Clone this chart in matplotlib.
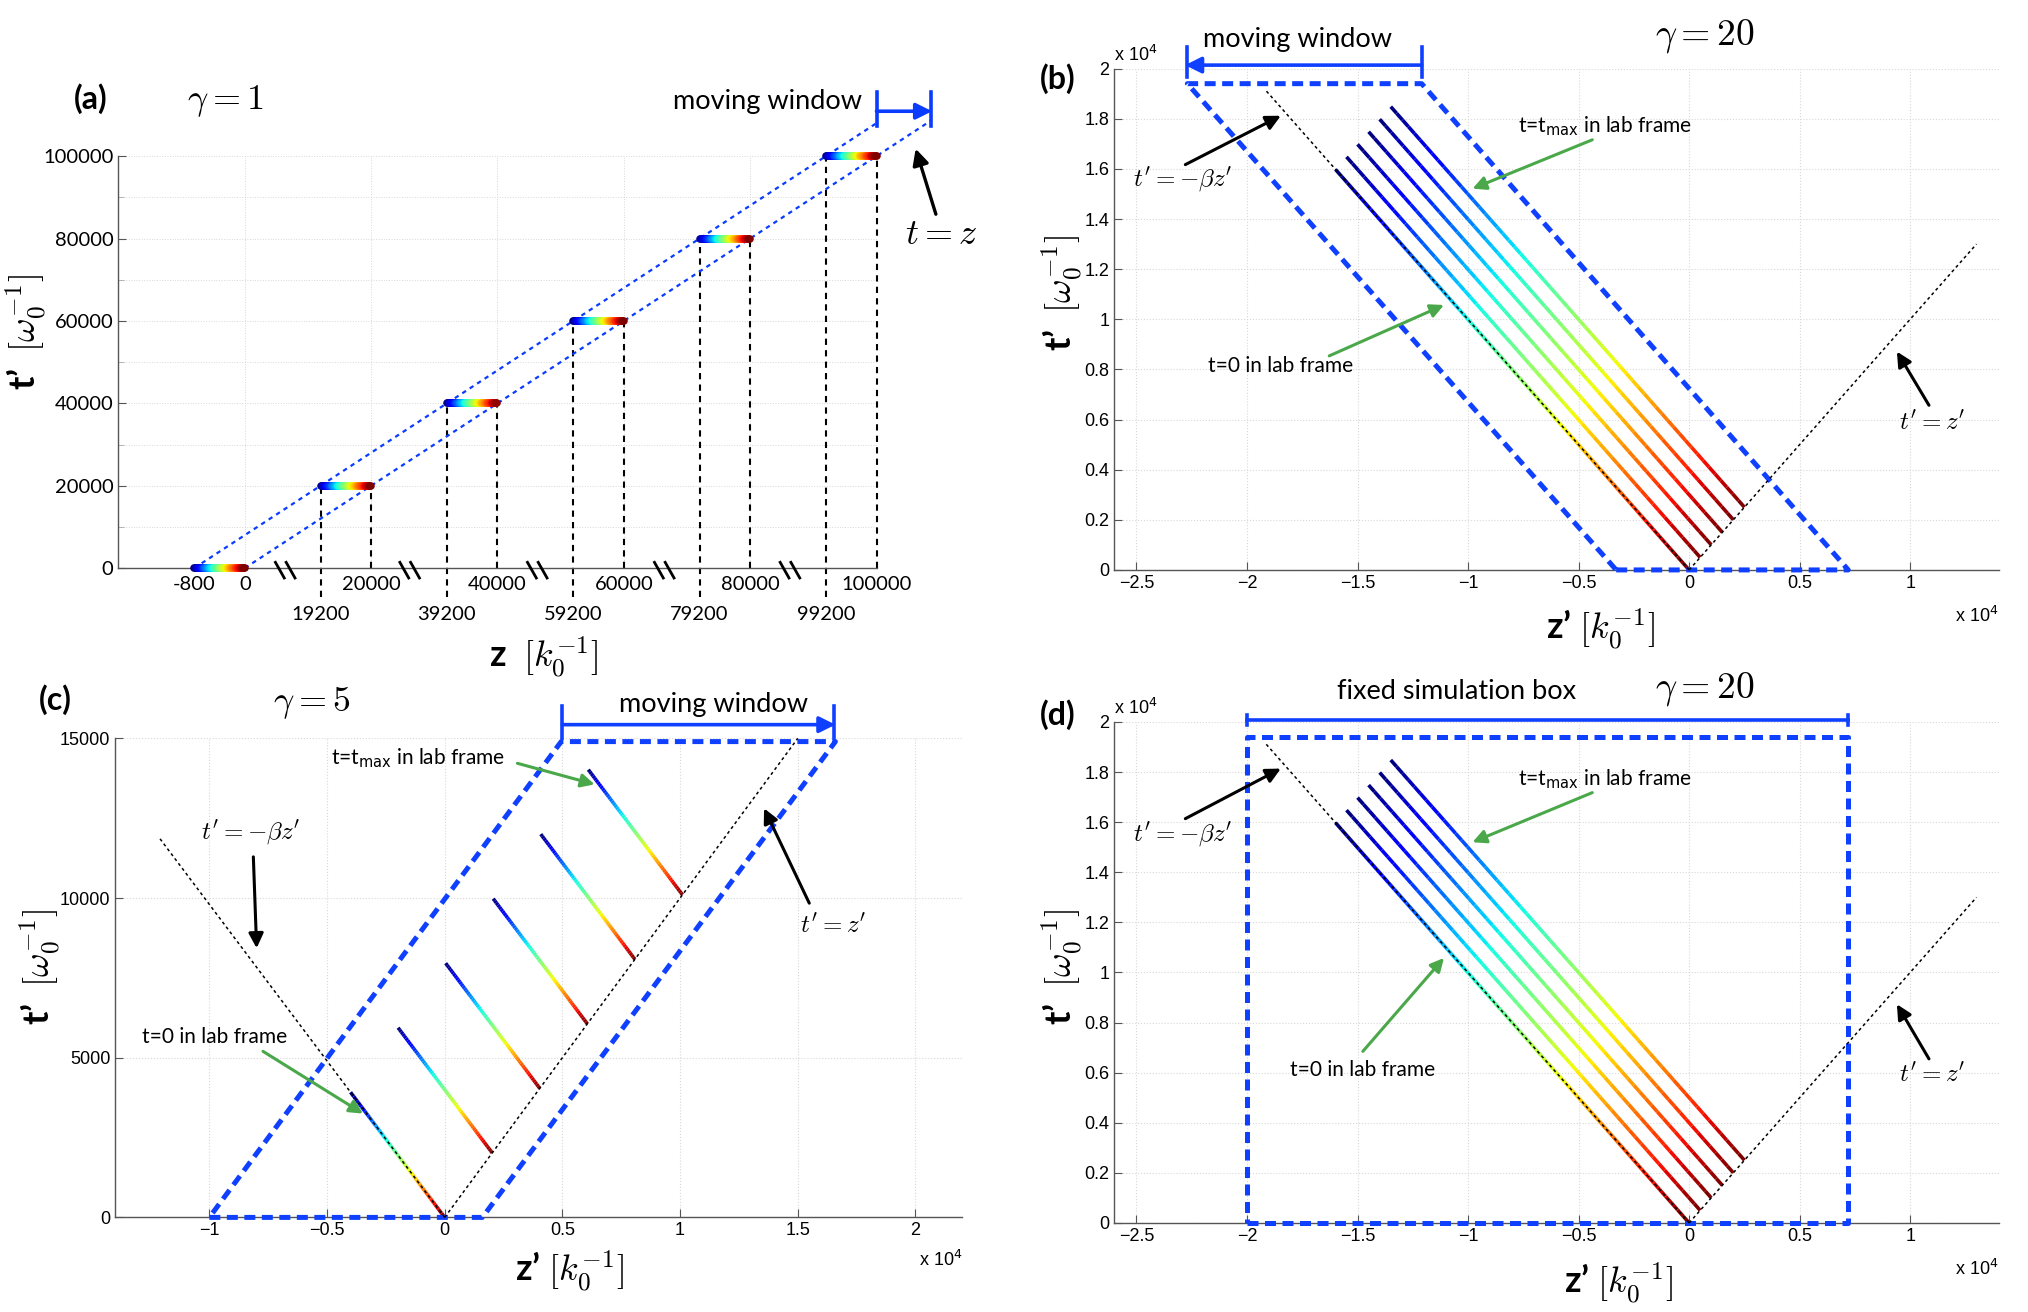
import numpy as np
import matplotlib
matplotlib.use('Agg')
import matplotlib.pyplot as plt
from matplotlib.collections import LineCollection

plt.rcParams['mathtext.fontset'] = 'cm'
plt.rcParams['font.family'] = ['Lato', 'DejaVu Sans']
plt.rcParams['axes.unicode_minus'] = True

BLUE = '#0a3cff'
DBLUE = '#1040ff'
GREEN = '#4aa84a'
AXC = '#555555'
GRIDC = '#d8d8d8'
TICKFONT = ['Liberation Sans', 'DejaVu Sans']

# ---------------- data ----------------
# panel (a): snapshots in the lab frame (plotted on a broken z axis)
a_times = [0, 20000, 40000, 60000, 80000, 100000]
a_left = [-8000, 12000, 32000, 52000, 72000, 92000]     # plotted position of z = t-800
a_right = [0, 20000, 40000, 60000, 80000, 100000]       # plotted position of z = t
a_top_pos = [-8000, 0, 20000, 40000, 60000, 80000, 100000]
a_top_lab = ['-800', '0', '20000', '40000', '60000', '80000', '100000']
a_low_pos = [12000, 32000, 52000, 72000, 92000]
a_low_lab = ['19200', '39200', '59200', '79200', '99200']
a_break_pos = [6400, 26100, 46300, 66400, 86300]
a_win_left = ([-8000, 100000], [0, 108000])
a_win_right = ([0, 108700], [0, 108700])

# panels (b)/(d): gamma = 20, boosted-frame snapshots
g20_z_top = [-16000, -15500, -14999, -14499, -13999, -13498]
g20_t_top = [15980, 16480, 16980, 17481, 17981, 18482]
g20_z_bot = [0, 500, 1001, 1501, 2001, 2502]
g20_t_bot = [0, 500, 1001, 1501, 2001, 2502]
g20_beta_line = ([0, -19200], [0, 19180])
g20_light_line = ([0, 13000], [0, 13000])
b_window_z = [-3300, 7200, -12100, -22700, -3300]
b_window_t = [0, 0, 19400, 19400, 0]
d_box_z = [-20000, 7200, 7200, -20000, -20000]
d_box_t = [0, 0, 19400, 19400, 0]

# panel (c): gamma = 5
g5_z_top = [-4000, -1980, 41, 2061, 4082, 6102]
g5_t_top = [3919, 5939, 7960, 9980, 12001, 14021]
g5_z_bot = [0, 2020, 4041, 6061, 8082, 10102]
g5_t_bot = [0, 2020, 4041, 6061, 8082, 10102]
g5_beta_line = ([0, -12100], [0, 11860])
g5_light_line = ([0, 15000], [0, 15000])
c_window_z = [-10000, 1600, 16600, 4950, -10000]
c_window_t = [0, 0, 14900, 14900, 0]

b_xticks = [-25000, -20000, -15000, -10000, -5000, 0, 5000, 10000]
b_xlabels = ['\u22122.5', '\u22122', '\u22121.5', '\u22121', '\u22120.5', '0', '0.5', '1']
b_yticks = [0, 2000, 4000, 6000, 8000, 10000, 12000, 14000, 16000, 18000, 20000]
b_ylabels = ['0', '0.2', '0.4', '0.6', '0.8', '1', '1.2', '1.4', '1.6', '1.8', '2']
c_xticks = [-10000, -5000, 0, 5000, 10000, 15000, 20000]
c_xlabels = ['\u22121', '\u22120.5', '0', '0.5', '1', '1.5', '2']
c_yticks = [0, 5000, 10000, 15000]
c_ylabels = ['0', '5000', '10000', '15000']

fig = plt.figure(figsize=(20.28, 13.12), dpi=100)


def grad_line(ax, x0, y0, x1, y1, lw, cap='butt', z=3):
    n = 60
    xs = np.linspace(x0, x1, n + 1)
    ys = np.linspace(y0, y1, n + 1)
    pts = np.column_stack([xs, ys]).reshape(-1, 1, 2)
    segs = np.concatenate([pts[:-1], pts[1:]], axis=1)
    lc = LineCollection(segs, cmap='jet', linewidths=lw, capstyle=cap, zorder=z)
    lc.set_array(np.linspace(0, 1, n))
    lc.set_clim(0, 1)
    ax.add_collection(lc)


def style_axes(ax):
    for s in ['top', 'right']:
        ax.spines[s].set_visible(False)
    for s in ['left', 'bottom']:
        ax.spines[s].set_color(AXC)
        ax.spines[s].set_linewidth(1.0)
    ax.tick_params(direction='in', length=6, color=AXC, width=0.8)


def arrow(ax, tail, head, color, lw=2.2, ms=22):
    ax.annotate('', xy=head, xytext=tail,
                arrowprops=dict(arrowstyle='-|>', color=color, lw=lw,
                                mutation_scale=ms, shrinkA=0, shrinkB=0),
                annotation_clip=False, zorder=6)


def tmax_text(ax, x, y):
    ax.text(x, y, r't=t$_{\mathrm{max}}$ in lab frame', fontsize=15, ha='center',
            va='center', math_fontfamily='dejavusans', zorder=7)


# ================= panel (a) =================
axa = fig.add_axes([0.0584, 0.567, 0.3738, 0.314])
style_axes(axa)
axa.set_xlim(-20000, 100000)
axa.set_ylim(0, 100000)
axa.set_yticks([0, 20000, 40000, 60000, 80000, 100000])
axa.set_yticklabels(['0', '20000', '40000', '60000', '80000', '100000'], fontsize=14.5)
axa.set_yticks(np.arange(10000, 100000, 20000), minor=True)
axa.tick_params(axis='y', which='minor', direction='in', length=4, color='#aaaaaa')
axa.set_xticks([])
for yv in range(10000, 100001, 10000):
    axa.axhline(yv, color=GRIDC, lw=0.7, ls=':', zorder=0)
for xv in a_right:
    axa.axvline(xv, color=GRIDC, lw=0.7, ls=':', zorder=0)

# dashed verticals
for k in range(1, 6):
    axa.plot([a_left[k], a_left[k]], [-7100, a_times[k]], color='k', lw=1.5,
             dashes=(3, 2.5), clip_on=False, zorder=2)
    axa.plot([a_right[k], a_right[k]], [0, a_times[k]], color='k', lw=1.5,
             dashes=(3, 2.5), clip_on=False, zorder=2)
# window lines
axa.plot(*a_win_left, color=BLUE, lw=1.6, dashes=(2, 2), clip_on=False, zorder=2)
axa.plot(*a_win_right, color=BLUE, lw=1.6, dashes=(2, 2), clip_on=False, zorder=2)
# colored bars
for k in range(6):
    grad_line(axa, a_left[k], a_times[k], a_right[k], a_times[k], lw=5.5, cap='round', z=4)
for c in axa.collections:
    c.set_clip_on(False)
# tick labels (fake broken axis)
for p, l in zip(a_top_pos, a_top_lab):
    axa.text(p, -3900, l, ha='center', va='center', fontsize=14.5)
for p, l in zip(a_low_pos, a_low_lab):
    axa.text(p, -11300, l, ha='center', va='center', fontsize=14.5)
for p in a_break_pos:
    for d in (-850, 850):
        axa.plot([p + d - 700, p + d + 700], [1400, -2400], color='k', lw=2.0,
                 clip_on=False, zorder=5)
# annotations
axa.text(-24400, 114000, '(a)', fontsize=23, fontweight='bold', ha='center', va='center')
axa.text(-3100, 113300, r'$\gamma = 1$', fontsize=26, ha='center', va='center')
axa.text(82700, 113300, 'moving window', fontsize=19.5, ha='center', va='center')
axa.plot([100000, 100000], [107400, 115600], color=BLUE, lw=2.6, clip_on=False)
axa.plot([108700, 108700], [107400, 115600], color=BLUE, lw=2.6, clip_on=False)
arrow(axa, (100000, 110900), (108800, 110900), BLUE, lw=2.6, ms=24)
axa.text(110300, 81300, r'$t = z$', fontsize=26, ha='center', va='center')
arrow(axa, (109400, 85900), (106200, 101800), 'k', lw=2.4, ms=24)

fig.text(0.0128, 0.747, "t\u2019  $[\\omega_0^{-1}]$", rotation=90, fontsize=26,
         fontweight='bold', ha='center', va='center')
fig.text(0.268, 0.499, "z  $[k_0^{-1}]$", fontsize=26, fontweight='bold',
         ha='center', va='center')


# ================= panels (b) and (d) =================
def gamma20_panel(rect, label, fixed):
    ax = fig.add_axes(rect)
    style_axes(ax)
    ax.set_xlim(-26000, 14000)
    ax.set_ylim(0, 20000)
    ax.set_xticks(b_xticks)
    ax.set_xticklabels(b_xlabels, fontsize=13, family=TICKFONT)
    ax.set_yticks(b_yticks)
    ax.set_yticklabels(b_ylabels, fontsize=13, family=TICKFONT)
    ax.grid(True, color=GRIDC, lw=0.8, ls=':')
    ax.set_axisbelow(True)
    for k in range(6):
        grad_line(ax, g20_z_top[k], g20_t_top[k], g20_z_bot[k], g20_t_bot[k], lw=2.6)
    ax.plot(*g20_beta_line, color='k', lw=1.1, dashes=(2, 2), zorder=5, clip_on=False)
    ax.plot(*g20_light_line, color='k', lw=1.1, dashes=(2, 2), zorder=5, clip_on=False)
    ax.text(0.0, 1.008, 'x 10$^4$', transform=ax.transAxes, fontsize=13,
            family=TICKFONT, ha='left', va='bottom', math_fontfamily='dejavusans')
    ax.text(1.0, -0.104, 'x 10$^4$', transform=ax.transAxes, fontsize=13,
            family=TICKFONT, ha='right', va='baseline', math_fontfamily='dejavusans')
    if not fixed:
        ax.plot(b_window_z, b_window_t, color=DBLUE, lw=3.6, dashes=(2.2, 1.3),
                clip_on=False, zorder=4)
        ax.plot([-22700, -22700], [19650, 20850], color=DBLUE, lw=2.6, clip_on=False)
        ax.plot([-12100, -12100], [19650, 20850], color=DBLUE, lw=2.6, clip_on=False)
        arrow(ax, (-12100, 20140), (-22800, 20140), DBLUE, lw=2.6, ms=24)
        ax.text(-17700, 21150, 'moving window', fontsize=19.5, ha='center', va='center')
        ax.text(-28550, 19600, '(b)', fontsize=23, fontweight='bold', ha='center', va='center')
        ax.text(700, 21300, r'$\gamma = 20$', fontsize=27, ha='center', va='center')
        ax.text(-18470, 8140, 't=0 in lab frame', fontsize=15, ha='center', va='center')
        arrow(ax, (-16280, 8540), (-11090, 10570), GREEN, lw=2.2, ms=20)
        tmax_text(ax, -3820, 17720)
        arrow(ax, (-4380, 17160), (-9800, 15210), GREEN, lw=2.2, ms=20)
        ax.text(-22910, 15560, r"$t' = -\beta z'$", fontsize=18, ha='center', va='center')
        arrow(ax, (-22790, 16170), (-18470, 18120), 'k', lw=2.2, ms=22)
        ax.text(11000, 5920, r"$t' = z'$", fontsize=18, ha='center', va='center')
        arrow(ax, (10850, 6570), (9400, 8710), 'k', lw=2.2, ms=22)
    else:
        ax.plot(d_box_z, d_box_t, color=DBLUE, lw=3.6, dashes=(2.2, 1.3),
                clip_on=False, zorder=4)
        ax.plot([-20000, 7200], [20080, 20080], color=DBLUE, lw=2.6, clip_on=False)
        ax.plot([-20000, -20000], [19870, 20280], color=DBLUE, lw=2.6, clip_on=False)
        ax.plot([7200, 7200], [19870, 20280], color=DBLUE, lw=2.6, clip_on=False)
        ax.text(-10500, 21200, 'fixed simulation box', fontsize=19.5, ha='center', va='center')
        ax.text(-28550, 20300, '(d)', fontsize=23, fontweight='bold', ha='center', va='center')
        ax.text(730, 21300, r'$\gamma = 20$', fontsize=27, ha='center', va='center')
        ax.text(-14760, 6100, 't=0 in lab frame', fontsize=15, ha='center', va='center')
        arrow(ax, (-14760, 6850), (-11090, 10580), GREEN, lw=2.2, ms=20)
        tmax_text(ax, -3820, 17730)
        arrow(ax, (-4380, 17180), (-9800, 15200), GREEN, lw=2.2, ms=20)
        ax.text(-22910, 15500, r"$t' = -\beta z'$", fontsize=18, ha='center', va='center')
        arrow(ax, (-22790, 16140), (-18470, 18140), 'k', lw=2.2, ms=22)
        ax.text(11000, 5930, r"$t' = z'$", fontsize=18, ha='center', va='center')
        arrow(ax, (10850, 6550), (9400, 8730), 'k', lw=2.2, ms=22)
    return ax


axb = gamma20_panel([0.5495, 0.5656, 0.436, 0.3821], '(b)', False)
fig.text(0.524, 0.777, "t\u2019  $[\\omega_0^{-1}]$", rotation=90, fontsize=26,
         fontweight='bold', ha='center', va='center')
fig.text(0.789, 0.520, "z\u2019 $[k_0^{-1}]$", fontsize=26, fontweight='bold',
         ha='center', va='center')

axd = gamma20_panel([0.5495, 0.0679, 0.436, 0.3818], '(d)', True)
fig.text(0.524, 0.263, "t\u2019  $[\\omega_0^{-1}]$", rotation=90, fontsize=26,
         fontweight='bold', ha='center', va='center')
fig.text(0.798, 0.022, "z\u2019 $[k_0^{-1}]$", fontsize=26, fontweight='bold',
         ha='center', va='center')

# ================= panel (c) =================
axc = fig.add_axes([0.0568, 0.0721, 0.4178, 0.3651])
style_axes(axc)
axc.set_xlim(-14000, 22000)
axc.set_ylim(0, 15000)
axc.set_xticks(c_xticks)
axc.set_xticklabels(c_xlabels, fontsize=13, family=TICKFONT)
axc.set_yticks(c_yticks)
axc.set_yticklabels(c_ylabels, fontsize=13, family=TICKFONT)
axc.grid(True, color=GRIDC, lw=0.8, ls=':')
axc.set_axisbelow(True)
for k in range(6):
    grad_line(axc, g5_z_top[k], g5_t_top[k], g5_z_bot[k], g5_t_bot[k], lw=2.6)
axc.plot(*g5_beta_line, color='k', lw=1.1, dashes=(2, 2), zorder=5, clip_on=False)
axc.plot(*g5_light_line, color='k', lw=1.1, dashes=(2, 2), zorder=5, clip_on=False)
axc.plot(c_window_z, c_window_t, color=DBLUE, lw=3.6, dashes=(2.2, 1.3),
         clip_on=False, zorder=4)
axc.plot([5000, 5000], [15000, 16000], color=DBLUE, lw=2.6, clip_on=False)
axc.plot([16520, 16520], [15000, 16000], color=DBLUE, lw=2.6, clip_on=False)
arrow(axc, (5000, 15430), (16600, 15430), DBLUE, lw=2.6, ms=24)
axc.text(11400, 16050, 'moving window', fontsize=19.5, ha='center', va='center')
axc.text(-16550, 16200, '(c)', fontsize=23, fontweight='bold', ha='center', va='center')
axc.text(-5660, 16130, r'$\gamma = 5$', fontsize=26, ha='center', va='center')
tmax_text(axc, -1150, 14390)
arrow(axc, (3090, 14220), (6370, 13560), GREEN, lw=2.2, ms=20)
axc.text(-8260, 12050, r"$t' = -\beta z'$", fontsize=18, ha='center', va='center')
arrow(axc, (-8130, 11290), (-7990, 8430), 'k', lw=2.2, ms=22)
axc.text(-9770, 5660, 't=0 in lab frame', fontsize=15, ha='center', va='center')
arrow(axc, (-7720, 5200), (-3470, 3250), GREEN, lw=2.2, ms=20)
axc.text(16500, 9150, r"$t' = z'$", fontsize=18, ha='center', va='center')
arrow(axc, (15490, 9840), (13570, 12810), 'k', lw=2.2, ms=22)
axc.text(1.0, -0.101, 'x 10$^4$', transform=axc.transAxes, fontsize=13,
         family=TICKFONT, ha='right', va='baseline', math_fontfamily='dejavusans')
fig.text(0.0198, 0.263, "t\u2019  $[\\omega_0^{-1}]$", rotation=90, fontsize=26,
         fontweight='bold', ha='center', va='center')
fig.text(0.281, 0.031, "z\u2019 $[k_0^{-1}]$", fontsize=26, fontweight='bold',
         ha='center', va='center')

fig.savefig('out.png', dpi=100)
